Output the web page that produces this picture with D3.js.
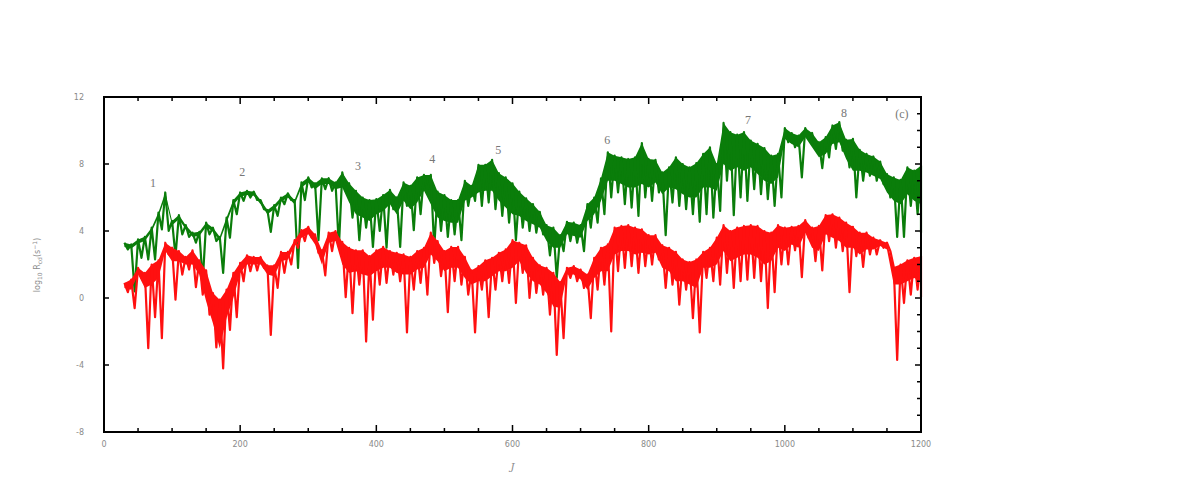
<!DOCTYPE html>
<html><head><meta charset="utf-8">
<script src="https://cdn.jsdelivr.net/npm/d3@7/dist/d3.min.js"></script>
<style>body{margin:0;background:#fff}svg{display:block}</style>
</head><body><svg id="c" width="1199" height="502"></svg>
<script>
// Sampling grid of J (every 10 from 30 to 1200)
const jStart = 30, jStep = 10;
// Green series: upper edge, lower edge of the dense band, and lowest dip at each J
const greenHi = [3.3,3.2,3.5,3.65,4.2,5.1,6.3,4.6,4.95,4.35,3.9,3.95,4.5,4.2,3.65,4.8,5.85,6.3,6.4,6.35,
5.85,5.25,5.55,6.0,6.25,5.85,6.9,7.2,6.85,7.15,7.15,6.9,7.5,6.85,6.4,6.0,5.85,5.9,6.15,6.45,
6.0,6.9,6.7,7.2,7.35,7.35,6.35,6.15,5.85,5.85,7.0,6.7,7.95,7.95,8.25,7.45,7.2,6.85,6.35,5.95,
5.6,5.15,4.35,4.2,3.75,4.55,4.5,4.35,5.6,6.0,7.15,8.7,8.5,8.4,8.3,8.4,9.25,8.3,8.25,7.5,
7.8,8.4,8.0,7.8,8.05,8.6,9.0,8.0,10.45,9.9,9.75,9.9,9.4,9.2,8.95,8.5,8.6,10.15,9.85,9.7,
10.15,9.85,9.3,9.6,10.3,10.5,9.45,9.5,8.85,8.6,8.45,8.15,7.4,7.2,7.05,7.8,7.6,7.9];
const greenBody = [3.05,2.95,3.25,3.4,3.95,4.85,6.0,4.35,4.7,4.1,3.65,3.7,4.25,3.95,3.4,4.5,5.55,6.05,6.15,6.1,
5.6,5.0,5.3,5.75,6.0,5.6,6.6,6.9,6.5,6.8,6.8,6.5,6.6,5.7,5.0,4.8,4.6,5.0,5.2,5.6,
5.0,5.8,5.3,5.7,6.2,5.6,4.8,4.6,4.5,4.5,5.8,6.0,6.3,6.4,6.4,5.8,5.4,5.0,4.9,4.6,
4.4,4.2,3.4,3.0,3.0,3.8,3.7,3.6,4.6,5.0,5.8,7.0,7.0,6.8,6.6,6.6,6.8,6.6,6.9,6.2,
6.6,6.5,6.2,6.0,6.0,6.6,6.6,6.4,8.0,7.6,7.8,7.6,7.8,7.4,7.0,6.8,7.2,9.5,9.2,9.0,
9.6,9.0,8.4,8.6,9.2,9.3,8.3,7.6,7.6,7.5,7.3,7.1,6.3,5.8,5.6,6.2,5.8,5.6];
const greenLo = [2.9,0.4,2.4,2.3,2.3,4.1,4.0,2.5,3.8,3.65,3.3,1.0,3.8,3.4,1.5,3.6,5.0,5.8,6.0,5.85,
5.3,3.95,4.9,5.6,5.85,1.8,5.85,6.6,3.45,6.5,6.4,3.05,6.4,4.8,3.45,4.2,3.05,4.0,3.0,5.3,
3.05,5.5,4.05,5.0,6.4,3.0,4.0,3.65,3.8,3.45,5.5,5.8,5.5,5.7,5.3,4.9,4.5,3.45,4.2,4.0,
3.9,3.8,2.55,1.2,2.8,3.4,3.3,2.8,4.2,4.5,5.0,6.0,6.3,5.6,5.4,4.9,6.0,5.8,6.3,3.75,
5.7,5.5,5.3,5.0,4.55,5.0,4.8,5.2,7.0,4.95,6.0,5.8,6.5,6.2,5.9,5.5,6.0,9.3,9.0,7.2,
9.5,8.9,7.75,8.4,8.9,8.8,7.8,6.0,7.0,7.3,7.0,6.8,6.0,3.65,3.65,5.5,5.0,3.9];
// Red series
const redHi = [0.9,1.1,1.8,1.5,2.0,2.25,3.3,3.0,2.8,2.45,2.85,2.25,1.65,0.3,-0.1,0.5,1.5,2.1,2.55,2.45,
2.45,1.95,1.95,2.75,2.75,3.45,4.05,4.25,3.8,2.85,3.9,4.0,3.35,3.0,2.85,2.85,2.5,2.85,3.05,2.8,
2.7,2.6,2.45,2.8,3.0,3.9,3.4,2.8,3.05,3.05,2.45,1.65,1.9,2.25,2.4,2.7,2.9,3.45,3.3,3.15,
2.4,1.95,1.8,1.5,0.95,1.8,1.9,1.7,1.4,2.4,3.0,3.2,4.2,4.3,4.35,4.2,4.1,3.75,3.75,3.15,
3.0,2.75,2.3,2.15,2.3,2.75,3.0,3.6,4.35,4.0,4.2,4.3,4.35,4.3,4.0,3.9,4.35,4.2,4.25,4.3,
4.65,4.2,4.3,4.95,5.0,4.8,4.5,4.25,3.9,3.9,3.6,3.45,3.3,1.85,2.0,2.25,2.4,2.5];
const redBody = [0.6,0.5,1.4,0.6,0.8,1.2,2.8,2.2,2.2,2.0,2.0,1.4,-0.2,-1.5,-3.0,-1.2,0.0,1.5,2.0,2.0,
2.0,1.4,1.3,2.2,2.3,3.1,3.6,3.8,3.2,2.0,3.3,3.4,2.0,1.5,1.6,1.4,1.3,1.6,1.8,1.8,
1.5,1.4,1.4,1.7,1.8,2.6,2.2,1.6,1.8,1.8,1.2,0.8,1.0,1.0,1.3,1.6,1.6,1.8,2.2,1.5,
1.0,0.8,0.3,-0.5,-0.6,1.4,1.4,1.1,0.5,1.2,1.6,1.6,2.6,2.8,2.8,2.6,2.7,2.6,2.7,1.8,
1.6,1.0,1.0,0.8,0.6,1.8,1.8,2.0,2.8,2.2,2.4,2.6,2.6,2.4,2.0,2.2,3.0,2.8,3.2,3.0,
3.9,3.0,2.8,3.8,3.6,3.4,3.0,3.0,2.6,2.9,2.9,3.1,2.9,0.8,0.8,1.0,1.2,1.0];
const redLo = [0.35,-0.6,1.2,-3.0,-1.15,-2.4,2.6,-0.1,1.4,1.7,0.65,0.2,-1.0,-2.95,-4.2,-1.9,-1.15,1.0,1.6,1.65,
1.8,-2.2,0.6,1.5,2.0,3.0,3.4,3.6,2.7,1.35,2.8,3.2,0.05,-0.9,0.8,-2.6,-1.3,0.8,0.9,1.4,
1.0,-2.05,0.5,0.9,0.2,2.1,1.3,-0.85,1.0,0.8,0.2,-2.05,0.5,-1.15,0.5,1.0,0.9,-0.3,1.5,0.0,
0.3,0.2,-1.0,-3.4,-2.4,1.2,1.0,0.6,-1.2,0.5,0.8,-2.0,1.6,1.8,1.9,1.5,1.9,2.0,2.3,0.6,
0.8,-0.4,0.5,-1.2,-2.05,1.2,1.0,0.8,1.5,0.6,1.0,1.1,1.2,1.0,-0.6,0.35,2.0,2.0,2.85,1.25,
3.6,2.2,1.65,3.4,3.0,2.8,0.35,2.5,1.85,2.6,2.6,3.0,2.8,-3.7,-0.3,0.2,0.5,0.05];
// Axis ticks
const xTicks = [0,200,400,600,800,1000,1200];
const yTicks = [12,8,4,0,-4,-8];
// Annotations (label, J, value)
const annLabels = ["1","2","3","4","5","6","7","8","(c)"];
const annJ = [72,203,373,482,579,739,946,1087,1172];
const annV = [6.87,7.52,7.88,8.3,8.84,9.43,10.63,11.04,10.98];

const svg = d3.select("#c");
svg.append("rect").attr("width",1199).attr("height",502).attr("fill","#fff");
const L = 104, T = 97, W = 817, H = 335;
const x = d3.scaleLinear().domain([0,1200]).range([L, L+W]);
const y = d3.scaleLinear().domain([-8,12]).range([T+H, T]);

const jOf = i => jStart + i*jStep;
function zig(hi, lo){
  const pts = [];
  hi.forEach((h,i)=>{
    const j = jOf(i);
    pts.push([j, h]);
    pts.push([Math.min(1200, j + jStep/2), lo[i]]);
  });
  return pts;
}
const line = d3.line().x(d=>x(d[0])).y(d=>y(d[1]));
const area = d3.area().x((d,i)=>x(jOf(i))).y0(d=>y(d[1])).y1(d=>y(d[0]));

function series(hi, body, lo, col){
  const g = svg.append("g");
  g.append("path").attr("d", area(hi.map((h,i)=>[h, Math.max(body[i], Math.min(h, lo[i]))]))).attr("fill",col).attr("stroke","none");
  g.append("path").attr("d", line(zig(hi, lo))).attr("fill","none")
    .attr("stroke",col).attr("stroke-width",2.2).attr("stroke-linejoin","round");
}
series(greenHi, greenBody, greenLo, "#0a7d0a");
series(redHi, redBody, redLo, "#ff1010");

// ticks
const tg = svg.append("g").attr("stroke","#000").attr("stroke-width",1.5);
const xMinor = d3.range(0,1201,50);
xMinor.forEach(v=>{
  const major = v % 200 === 0;
  const len = major ? 7 : 4;
  tg.append("line").attr("x1",x(v)).attr("x2",x(v)).attr("y1",T+H).attr("y2",T+H-len);
  tg.append("line").attr("x1",x(v)).attr("x2",x(v)).attr("y1",T).attr("y2",T+len);
});
yTicks.forEach(v=>{
  tg.append("line").attr("x1",L).attr("x2",L+5).attr("y1",y(v)).attr("y2",y(v));
});
d3.range(-8,13,1).forEach(v=>{
  const major = v % 4 === 0;
  tg.append("line").attr("x1",L+W).attr("x2",L+W-(major?6:4)).attr("y1",y(v)).attr("y2",y(v));
});
// frame
svg.append("rect").attr("x",L).attr("y",T).attr("width",W).attr("height",H)
  .attr("fill","none").attr("stroke","#000").attr("stroke-width",2);

// tick labels
const lab = svg.append("g").attr("font-family","DejaVu Sans, sans-serif").attr("font-size",8).attr("fill","#8a8a8a");
xTicks.forEach(v=>{
  lab.append("text").attr("x",x(v)).attr("y",T+H+15).attr("text-anchor","middle").text(v);
});
yTicks.forEach(v=>{
  lab.append("text").attr("x",L-20).attr("y",y(v)+3).attr("text-anchor","end").text(v);
});
// axis titles
svg.append("text").attr("x",x(600)-2).attr("y",470).attr("font-family","DejaVu Serif, serif")
  .attr("font-style","italic").attr("font-size",10).attr("fill","#8a8a8a").text("J");
const yl = svg.append("text").attr("transform","translate(40,265) rotate(-90)")
  .attr("text-anchor","middle").attr("font-family","DejaVu Sans, sans-serif").attr("font-size",8).attr("fill","#8a8a8a");
yl.append("tspan").text("log");
yl.append("tspan").attr("font-size",6).attr("dy",2).text("10");
yl.append("tspan").attr("dy",-2).text(" R");
yl.append("tspan").attr("font-size",6).attr("dy",2).text("cd");
yl.append("tspan").attr("dy",-2).text("(s");
yl.append("tspan").attr("font-size",6).attr("dy",-3).text("−1");
yl.append("tspan").attr("dy",3).text(")");

// annotations
annLabels.forEach((t,i)=>{
  svg.append("text").attr("x",x(annJ[i])).attr("y",y(annV[i])+4).attr("text-anchor","middle")
    .attr("font-family","Liberation Serif, serif").attr("font-size",12).attr("fill","#777").text(t);
});
</script></body></html>
